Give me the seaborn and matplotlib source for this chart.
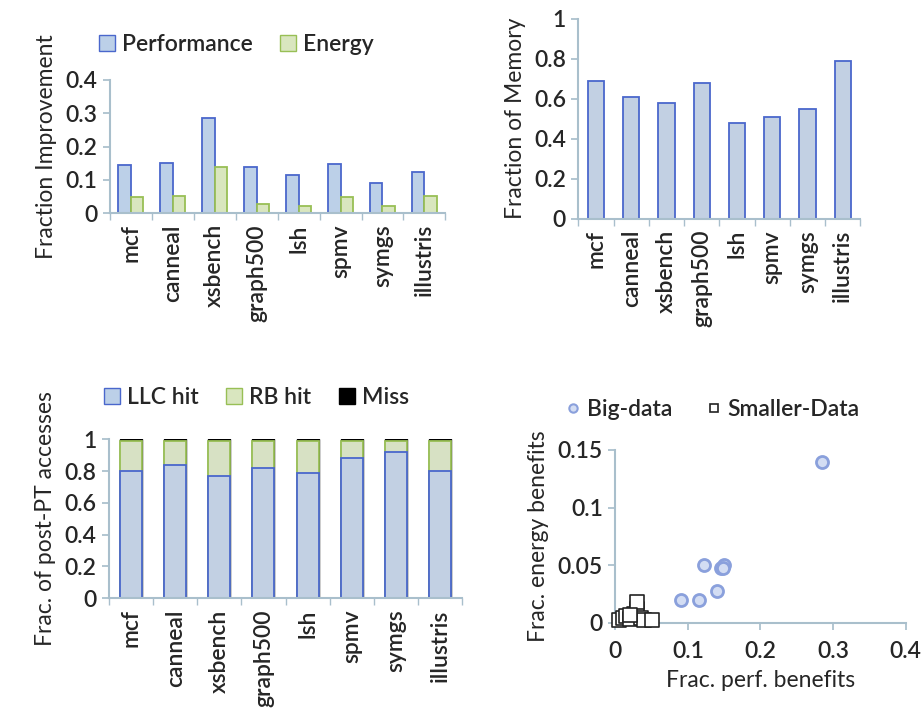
import matplotlib
matplotlib.use("Agg")
import matplotlib.pyplot as plt
from matplotlib.patches import Patch
from matplotlib.lines import Line2D
import seaborn as sns
import pandas as pd
import numpy as np

benchmarks = ["mcf", "canneal", "xsbench", "graph500", "lsh", "spmv", "symgs", "illustris"]
perf_gain = [0.145, 0.150, 0.285, 0.140, 0.115, 0.148, 0.090, 0.122]
energy_gain = [0.048, 0.050, 0.140, 0.028, 0.020, 0.048, 0.020, 0.050]
mem_fraction = [0.69, 0.61, 0.58, 0.68, 0.48, 0.51, 0.55, 0.79]
llc_hit = [0.80, 0.84, 0.77, 0.82, 0.79, 0.88, 0.92, 0.80]
rb_hit = [0.19, 0.15, 0.22, 0.17, 0.20, 0.11, 0.07, 0.19]
miss = [0.01, 0.01, 0.01, 0.01, 0.01, 0.01, 0.01, 0.01]
small_perf = [0.005, 0.010, 0.015, 0.020, 0.025, 0.030, 0.030, 0.035, 0.040, 0.050, 0.020]
small_energy = [0.002, 0.004, 0.006, 0.003, 0.008, 0.012, 0.018, 0.004, 0.002, 0.002, 0.007]

BLUE_FILL, BLUE_EDGE = "#bcd0e8", "#4a67cc"
GREEN_FILL, GREEN_EDGE = "#d9e6bf", "#98bf55"
AXIS_COL = "#a9bfcc"

sns.set_theme(style="white")
plt.rcParams["font.family"] = ["Lato", "DejaVu Sans"]
plt.rcParams["font.weight"] = "semibold"
FS = 16.5

fig = plt.figure(figsize=(9.24, 7.2), dpi=100)


def style_axes(ax, cat=True):
    sns.despine(ax=ax)
    for s in ("left", "bottom"):
        ax.spines[s].set_color(AXIS_COL)
        ax.spines[s].set_linewidth(1.5)
    ax.tick_params(axis="y", direction="out", length=5, color=AXIS_COL, labelsize=FS, pad=4, left=True)
    if cat:
        ax.set_xlim(-0.5, len(benchmarks) - 0.5)
        ax.set_xticks(range(len(benchmarks)))
        ax.set_xticklabels(benchmarks, rotation=90, fontsize=FS)
        ax.tick_params(axis="x", which="major", length=0, pad=8)
        ax.set_xticks(np.arange(-0.5, len(benchmarks)), minor=True)
        ax.tick_params(axis="x", which="minor", direction="out", length=5, color=AXIS_COL, bottom=True)
    ax.set_xlabel("")


# top-left: improvement
ax1 = fig.add_axes([0.119, 0.704, 0.363, 0.185])
df1 = pd.DataFrame({"bench": benchmarks * 2,
                    "val": perf_gain + energy_gain,
                    "metric": ["Performance"] * 8 + ["Energy"] * 8})
sns.barplot(data=df1, x="bench", y="val", hue="metric", width=0.6, gap=0, ax=ax1, legend=False)
for cont, fc, ec in zip(ax1.containers, [BLUE_FILL, GREEN_FILL], [BLUE_EDGE, GREEN_EDGE]):
    for p in cont:
        p.set_facecolor(fc)
        p.set_edgecolor(ec)
        p.set_linewidth(1.3)
ax1.set_ylim(0, 0.4)
ax1.set_yticks([0, 0.1, 0.2, 0.3, 0.4])
ax1.set_yticklabels(["0", "0.1", "0.2", "0.3", "0.4"])
ax1.set_ylabel("Fraction Improvement", fontsize=FS, labelpad=6)
style_axes(ax1)
ax1.legend(handles=[Patch(facecolor=BLUE_FILL, edgecolor=BLUE_EDGE, label="Performance"),
                    Patch(facecolor=GREEN_FILL, edgecolor=GREEN_EDGE, label="Energy")],
           loc="lower left", bbox_to_anchor=(-0.06, 1.12), ncol=2, frameon=False, fontsize=FS,
           handlelength=0.7, handleheight=0.7, handletextpad=0.3, columnspacing=1.2, borderaxespad=0)

# top-right: memory fraction
ax2 = fig.add_axes([0.626, 0.696, 0.305, 0.278])
sns.barplot(x=benchmarks, y=mem_fraction, width=0.46, color=BLUE_FILL,
            edgecolor=BLUE_EDGE, linewidth=1.3, ax=ax2)
ax2.set_ylim(0, 1)
ax2.set_yticks([0, 0.2, 0.4, 0.6, 0.8, 1])
ax2.set_yticklabels(["0", "0.2", "0.4", "0.6", "0.8", "1"])
ax2.set_ylabel("Fraction of Memory", fontsize=FS, labelpad=6)
style_axes(ax2)

# bottom-left: stacked accesses
ax3 = fig.add_axes([0.118, 0.169, 0.382, 0.221])
total = [a + b + c for a, b, c in zip(llc_hit, rb_hit, miss)]
llc_rb = [a + b for a, b in zip(llc_hit, rb_hit)]
sns.barplot(x=benchmarks, y=total, width=0.5, color="black", edgecolor="black", linewidth=1, ax=ax3)
sns.barplot(x=benchmarks, y=llc_rb, width=0.5, color=GREEN_FILL, edgecolor=GREEN_EDGE, linewidth=1.3, ax=ax3)
sns.barplot(x=benchmarks, y=llc_hit, width=0.5, color=BLUE_FILL, edgecolor=BLUE_EDGE, linewidth=1.3, ax=ax3)
ax3.set_ylim(0, 1)
ax3.set_yticks([0, 0.2, 0.4, 0.6, 0.8, 1])
ax3.set_yticklabels(["0", "0.2", "0.4", "0.6", "0.8", "1"])
ax3.set_ylabel("Frac. of post-PT accesses", fontsize=FS, labelpad=6)
style_axes(ax3)
ax3.legend(handles=[Patch(facecolor=BLUE_FILL, edgecolor=BLUE_EDGE, label="LLC hit"),
                    Patch(facecolor=GREEN_FILL, edgecolor=GREEN_EDGE, label="RB hit"),
                    Patch(facecolor="black", edgecolor="black", label="Miss")],
           loc="lower left", bbox_to_anchor=(-0.04, 1.14), ncol=3, frameon=False, fontsize=FS,
           handlelength=0.7, handleheight=0.7, handletextpad=0.3, columnspacing=1.2, borderaxespad=0)

# bottom-right: scatter
ax4 = fig.add_axes([0.666, 0.135, 0.314, 0.240])
df_big = pd.DataFrame({"perf": perf_gain, "energy": energy_gain})
df_small = pd.DataFrame({"perf": small_perf, "energy": small_energy})
sns.scatterplot(data=df_big, x="perf", y="energy", marker="o", s=75, facecolor="#d3ddf3",
                edgecolor="#8aa0dc", linewidth=2, ax=ax4, clip_on=False, zorder=3)
sns.scatterplot(data=df_small, x="perf", y="energy", marker="s", s=90, facecolor="white",
                edgecolor="#222222", linewidth=1.2, ax=ax4, clip_on=False, zorder=4)
ax4.set_xlim(0, 0.4)
ax4.set_ylim(0, 0.15)
ax4.set_xticks([0, 0.1, 0.2, 0.3, 0.4])
ax4.set_xticklabels(["0", "0.1", "0.2", "0.3", "0.4"])
ax4.set_yticks([0, 0.05, 0.1, 0.15])
ax4.set_yticklabels(["0", "0.05", "0.1", "0.15"])
style_axes(ax4, cat=False)
ax4.tick_params(axis="x", direction="out", length=5, color=AXIS_COL, labelsize=FS, pad=8, bottom=True)
ax4.set_xlabel("Frac. perf. benefits", fontsize=FS, labelpad=6)
ax4.set_ylabel("Frac. energy benefits", fontsize=FS, labelpad=6)
ax4.legend(handles=[Line2D([], [], marker="o", ls="", markersize=6, markerfacecolor="#d3ddf3",
                           markeredgecolor="#8aa0dc", markeredgewidth=1.5, label="Big-data"),
                    Line2D([], [], marker="s", ls="", markersize=6, markerfacecolor="white",
                           markeredgecolor="#222222", markeredgewidth=1.2, label="Smaller-Data")],
           loc="lower left", bbox_to_anchor=(-0.2, 1.12), ncol=2, frameon=False, fontsize=FS,
           handlelength=0.6, handletextpad=0.3, columnspacing=1.5, borderaxespad=0)

fig.savefig("out.png", dpi=100)
